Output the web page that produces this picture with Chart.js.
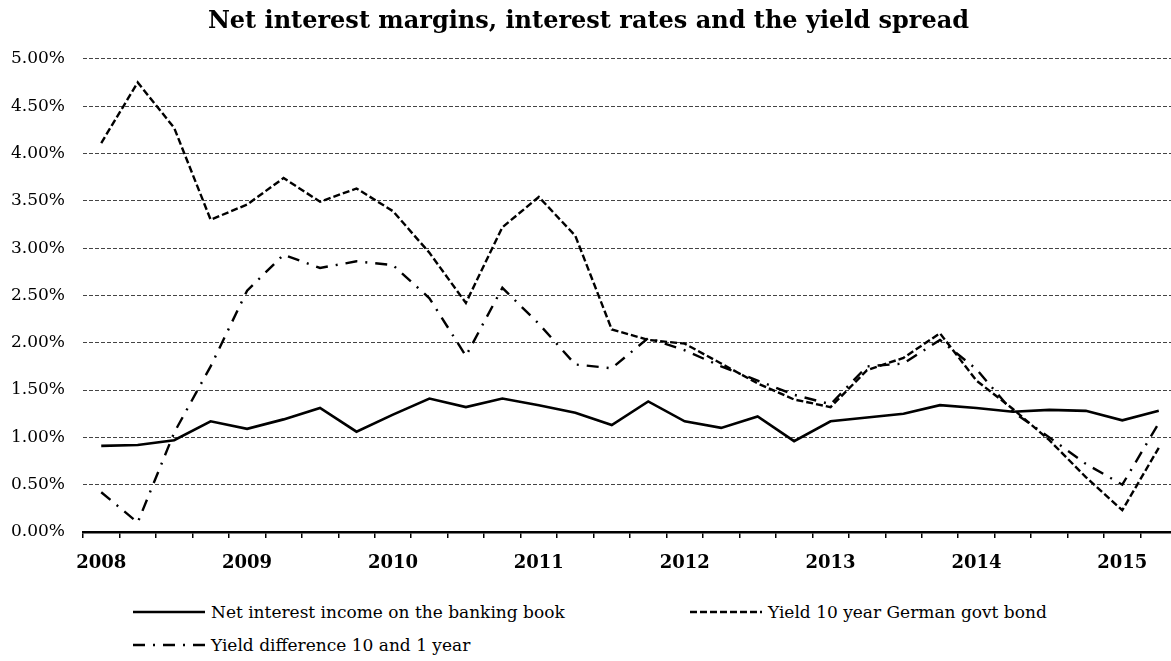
<!DOCTYPE html>
<html>
<head>
<meta charset="utf-8">
<script src="https://cdn.jsdelivr.net/npm/chart.js"></script>
<style>
  html, body { margin: 0; padding: 0; background: #fff; overflow: hidden; }
  #wrap { position: relative; width: 1171px; height: 661px; overflow: hidden; }
  #c { position: absolute; left: 0; top: 0; }
  .lg { position: absolute; font-family: "DejaVu Serif", serif; font-size: 17px; color: #000; white-space: nowrap; display: flex; align-items: center; }
  .lg svg { margin-right: 6px; }
</style>
</head>
<body>
<div id="wrap">
  <canvas id="c" width="1190" height="580"></canvas>
</div>
<script>
// quarterly observations, 2008 Q1 .. 2015 Q2
const years = ['2008', '2009', '2010', '2011', '2012', '2013', '2014', '2015'];
const quarters = [];
years.forEach(y => ['Q1', 'Q2', 'Q3', 'Q4'].forEach(q => quarters.push(y + ' ' + q)));
quarters.length = 30;

// values in percent
const netInterest = [0.91, 0.92, 0.97, 1.17, 1.09, 1.19, 1.31, 1.06, 1.24, 1.41,
                     1.32, 1.41, 1.34, 1.26, 1.13, 1.38, 1.17, 1.10, 1.22, 0.96,
                     1.17, 1.21, 1.25, 1.34, 1.31, 1.27, 1.29, 1.28, 1.18, 1.28];
const bund10y = [4.11, 4.75, 4.27, 3.30, 3.46, 3.74, 3.49, 3.63, 3.39, 2.95,
                 2.42, 3.22, 3.54, 3.13, 2.14, 2.03, 1.99, 1.78, 1.57, 1.40,
                 1.32, 1.71, 1.84, 2.10, 1.60, 1.30, 0.97, 0.58, 0.23, 0.89];
const spread10y1y = [0.42, 0.10, 1.05, 1.75, 2.55, 2.93, 2.79, 2.86, 2.82, 2.47,
                     1.86, 2.58, 2.20, 1.77, 1.73, 2.05, 1.92, 1.75, 1.60, 1.45,
                     1.35, 1.75, 1.78, 2.03, 1.72, 1.27, 1.00, 0.72, 0.50, 1.15];

const seriesNames = ['Net interest income on the banking book', 'Yield 10 year German govt bond', 'Yield difference 10 and 1 year'];

const datasets = [
  { label: seriesNames[0], data: netInterest, borderColor: '#000', borderWidth: 2.6, borderDash: [] },
  { label: seriesNames[1], data: bund10y, borderColor: '#000', borderWidth: 2.4, borderDash: [7, 3] },
  { label: seriesNames[2], data: spread10y1y, borderColor: '#000', borderWidth: 2.4, borderDash: [12, 8, 2, 8] }
];
datasets.forEach(d => { d.pointRadius = 0; d.tension = 0; d.fill = false; });

const chart = new Chart(document.getElementById('c'), {
  type: 'line',
  data: { labels: quarters, datasets: datasets },
  options: {
    responsive: false,
    animation: false,
    devicePixelRatio: 1,
    layout: { padding: { left: 0, right: 13, top: 0, bottom: 0 } },
    plugins: {
      legend: { display: false },
      tooltip: { enabled: false },
      title: {
        display: true,
        text: 'Net interest margins, interest rates and the yield spread',
        color: '#000',
        font: { family: 'DejaVu Serif', size: 24, weight: 'bold', lineHeight: 1.2 },
        padding: { top: 7, bottom: 23 }
      }
    },
    scales: {
      x: {
        offset: true,
        grid: { display: true, offset: true, drawOnChartArea: false, drawTicks: true, tickLength: 6, color: '#000', lineWidth: 1.5 },
        border: { display: true, color: '#000', width: 2.5 },
        ticks: {
          autoSkip: false, maxRotation: 0, padding: 15, color: '#000',
          font: { family: 'DejaVu Serif', size: 18, weight: 'bold' },
          callback: function (v, i) { const q = quarters[i]; return q.endsWith('Q1') ? q.slice(0, 4) : ''; }
        },
        afterFit: function (s) { s.height = 48; }
      },
      y: {
        min: 0, max: 5,
        grid: { color: '#444', lineWidth: 1, drawTicks: false },
        border: { display: false, dash: [4, 2] },
        ticks: {
          stepSize: 0.5, padding: 18, color: '#000',
          font: { family: 'DejaVu Serif', size: 17 },
          callback: v => v.toFixed(2) + '%'
        },
        afterFit: function (s) { s.width = 83; }
      }
    }
  }
});

// legend below the plot, two columns
const legendPos = [
  { left: 133, top: 612 },
  { left: 690, top: 612 },
  { left: 133, top: 645 }
];
const wrap = document.getElementById('wrap');
datasets.forEach((d, i) => {
  const el = document.createElement('div');
  el.className = 'lg';
  el.style.left = legendPos[i].left + 'px';
  el.style.top = (legendPos[i].top - 11) + 'px';
  el.style.height = '22px';
  const dash = d.borderDash.length ? d.borderDash.join(' ') : 'none';
  el.innerHTML = '<svg width="72" height="10"><line x1="0" y1="5" x2="72" y2="5" stroke="#000" stroke-width="' +
    d.borderWidth + '" stroke-dasharray="' + dash + '"/></svg>';
  const span = document.createElement('span');
  span.textContent = d.label;
  el.appendChild(span);
  wrap.appendChild(el);
});
</script>
</body>
</html>
